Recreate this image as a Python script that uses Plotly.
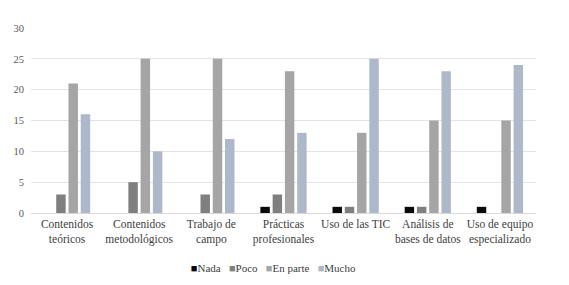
import plotly.graph_objects as go

categories = ["Contenidos<br>teóricos", "Contenidos<br>metodológicos", "Trabajo de<br>campo",
              "Prácticas<br>profesionales", "Uso de las TIC", "Análisis de<br>bases de datos",
              "Uso de equipo<br>especializado"]
nada = [0, 0, 0, 1, 1, 1, 1]
poco = [3, 5, 3, 3, 1, 1, 0]
en_parte = [21, 25, 25, 23, 13, 15, 15]
mucho = [16, 10, 12, 13, 25, 23, 24]
series_names = ["Nada", "Poco", "En parte", "Mucho"]
colors = ["#0a0a0a", "#7f7f7f", "#a5a5a5", "#adb9ca"]
y_ticks = [0, 5, 10, 15, 20, 25, 30]

SERIF = "Times New Roman, DejaVu Serif, serif"

fig = go.Figure()
for name, vals, c in zip(series_names, [nada, poco, en_parte, mucho], colors):
    fig.add_trace(go.Bar(x=categories, y=vals, name=name, marker_color=c,
                         marker_line_width=0, showlegend=False))

# compact legend line built from the series names and colours
legend_text = "\u00a0\u00a0\u00a0".join(
    f"<span style='color:{c}'>■</span>{n}" for n, c in zip(series_names, colors))
fig.add_trace(go.Scatter(
    x=[None], y=[None], mode="markers", name=legend_text,
    marker=dict(symbol="square", size=1, color="rgba(0,0,0,0)")))

fig.update_layout(
    width=569, height=285,
    margin=dict(l=31, r=33, t=28, b=72, autoexpand=False),
    paper_bgcolor="white", plot_bgcolor="white",
    barmode="group", bargap=0.32, bargroupgap=0.23,
    showlegend=True,
    font=dict(family=SERIF, size=11, color="#404040"),
    xaxis=dict(showgrid=False, showline=True, linecolor="#d9d9d9", linewidth=1,
               ticks="", automargin=False,
               tickfont=dict(family=SERIF, size=11.5, color="#404040")),
    yaxis=dict(range=[0, 30], tickvals=y_ticks, showgrid=True, gridcolor="#e4e4e4",
               gridwidth=1, zeroline=False, showline=False, ticks="", automargin=False,
               ticklabelstandoff=6,
               tickfont=dict(family=SERIF, size=10.5, color="#595959")),
    legend=dict(orientation="h", x=0.265, xanchor="left", xref="container",
                y=0.06, yanchor="middle", yref="container",
                font=dict(family=SERIF, size=11, color="#404040"), itemwidth=30,
                tracegroupgap=0, bgcolor="rgba(0,0,0,0)"),
)

fig.write_html("out.html", config={"displayModeBar": False},
               post_script="document.body.style.margin='0';")
